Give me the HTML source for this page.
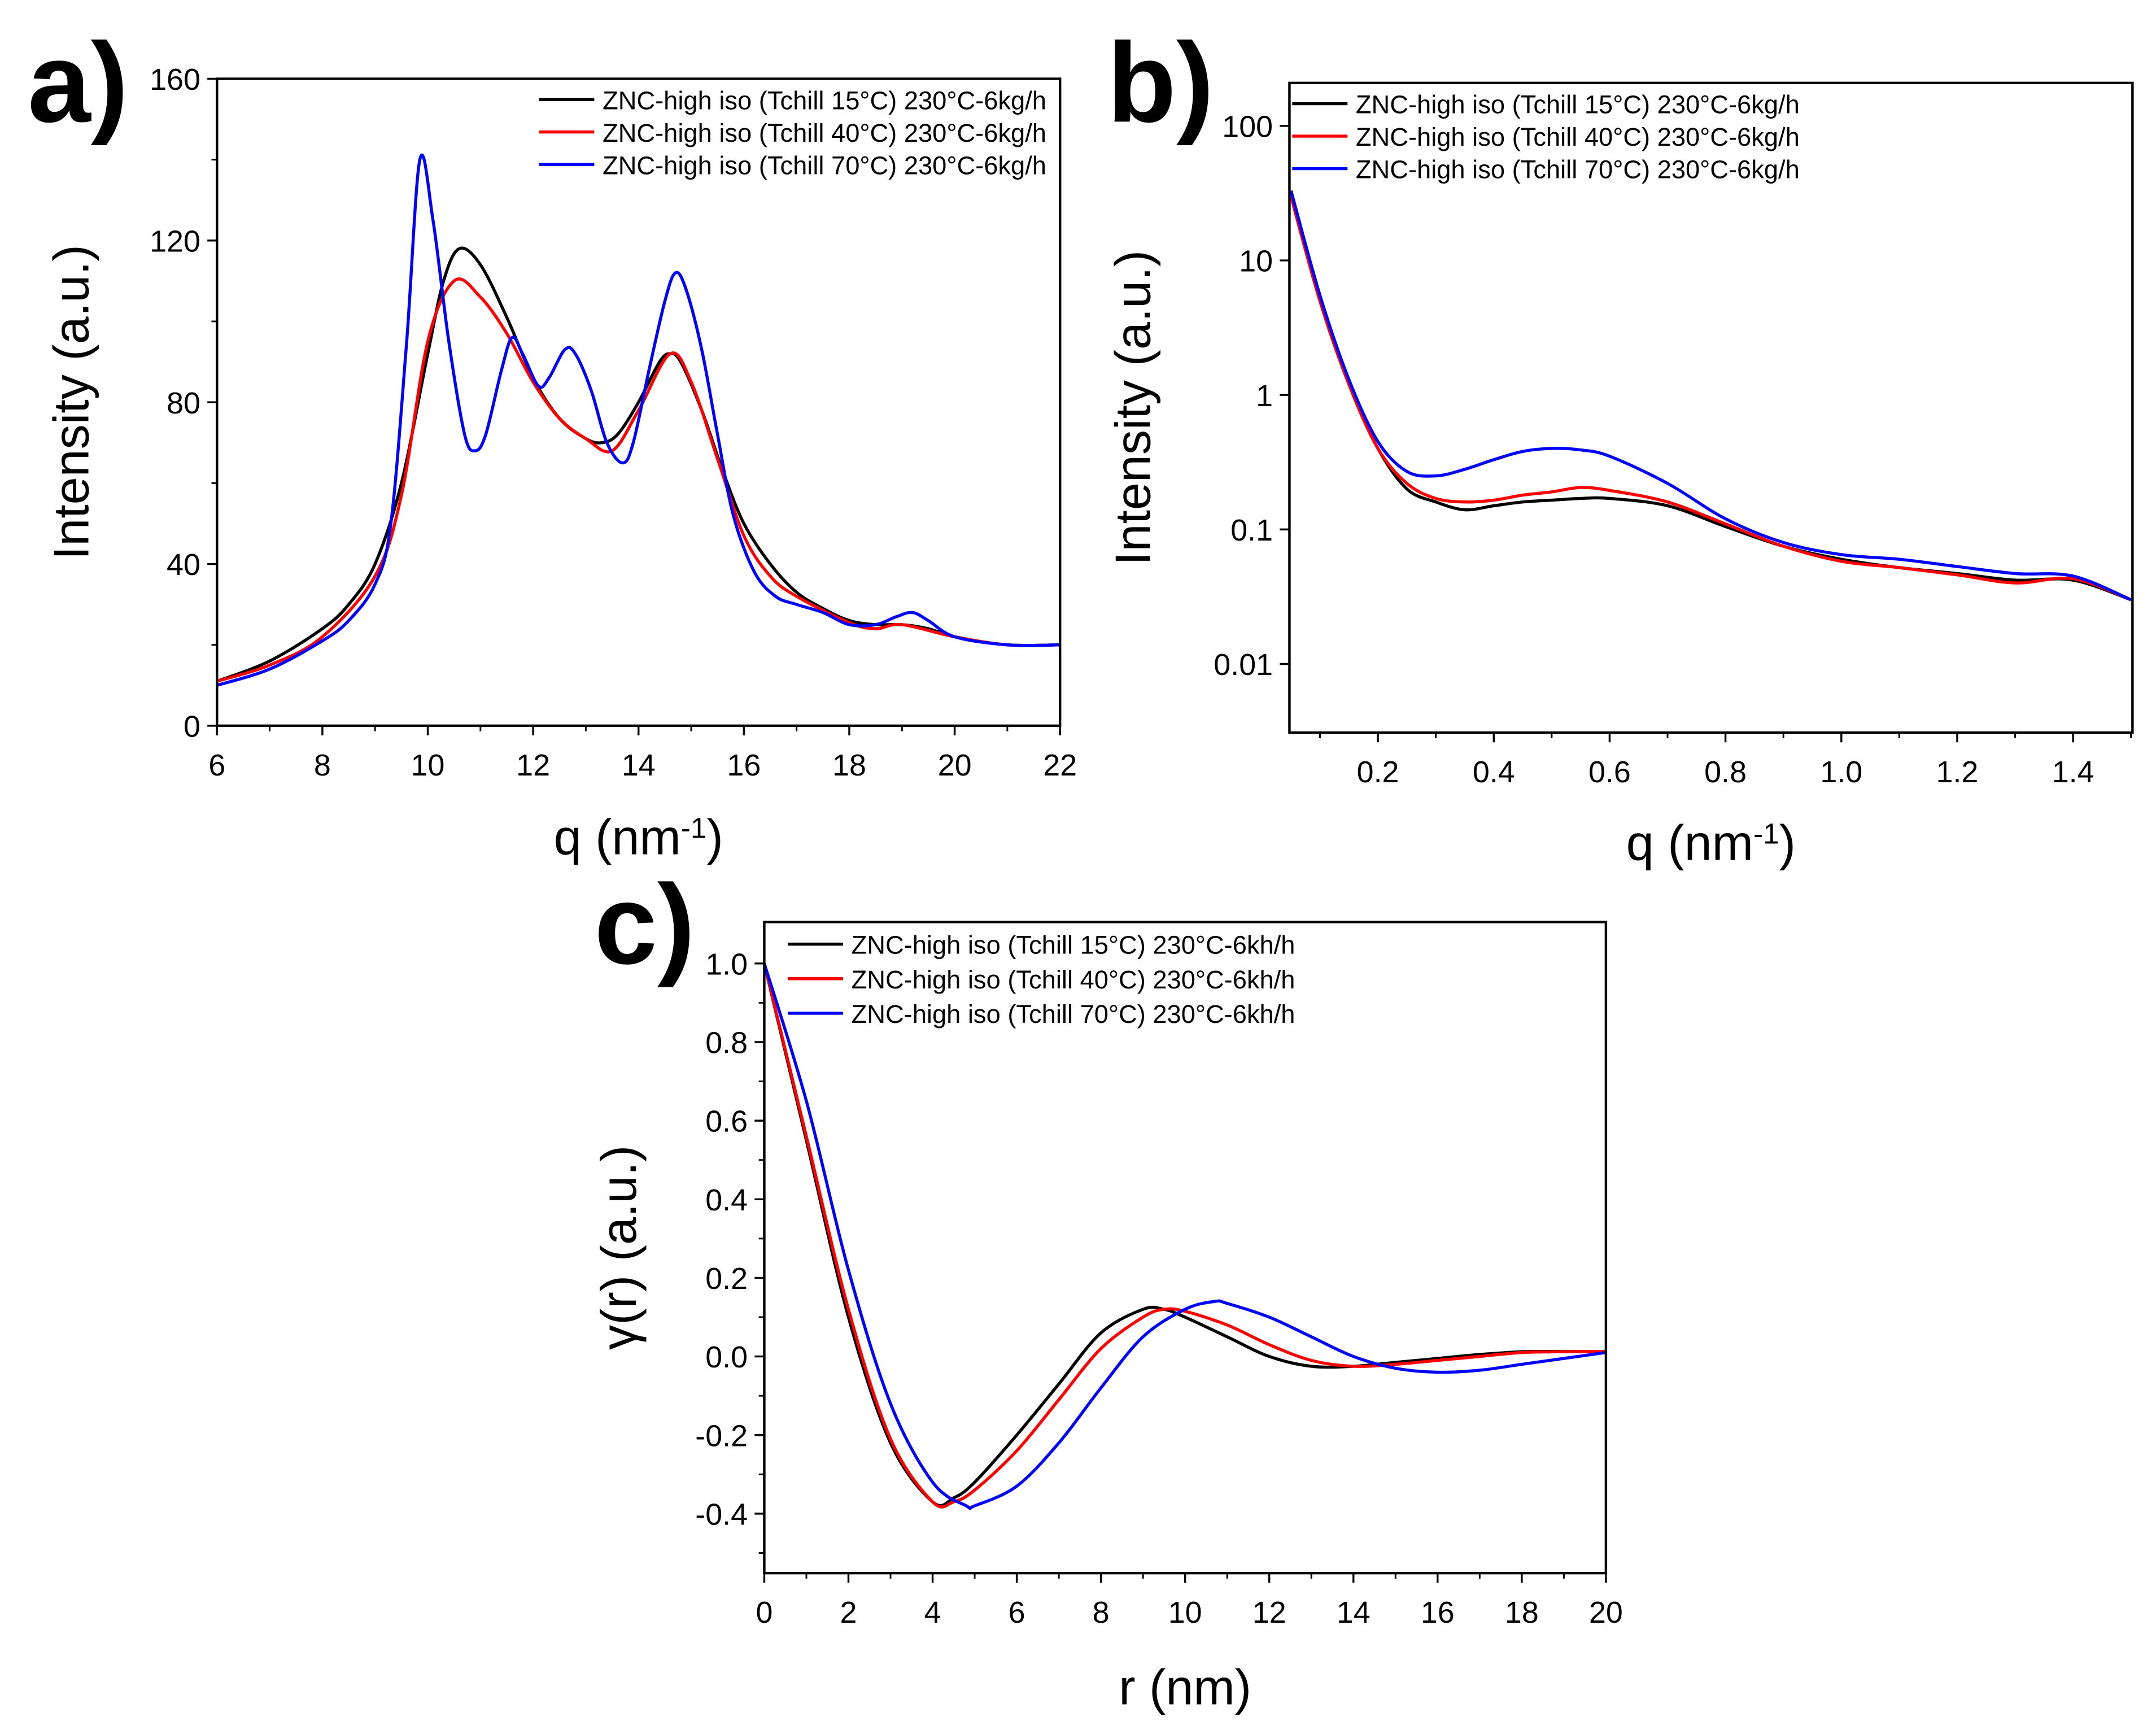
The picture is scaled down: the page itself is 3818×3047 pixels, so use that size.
<!DOCTYPE html>
<html><head><meta charset="utf-8"><style>
html,body{margin:0;padding:0;background:#fff}
svg{display:block}
text{font-family:"Liberation Sans Narrow","Liberation Sans",sans-serif}
.t{font-size:22px}
.lg{font-size:18.5px}
.ti{font-family:"Liberation Sans",sans-serif;font-size:36px}
.pl{font-family:"Liberation Sans",sans-serif;font-size:82px;font-weight:bold}
</style></head><body>
<svg id="fig" width="3818" height="3047" viewBox="0 0 1560 1245" xmlns="http://www.w3.org/2000/svg"></svg>
<script>
// Panel a data
const aQ_black=[6,7,8,8.5,9,9.5,10,10.3,10.6,11,11.5,12,12.5,13,13.3,13.6,14,14.4,14.6,14.8,15.2,15.6,16,16.5,17,17.5,18,18.5,19,19.5,20,21,22];
const aI_black=[11,16,24,30,40,60,92,110,118,114,101,86,76,71,70,72,80,90,92,90,78,63,50,40,33,29,26,25,25,24,22,20,20];
const aQ_red=[6,7,8,9,9.5,10,10.5,11,11.5,12,12.5,13,13.5,14,14.6,15,15.5,16,16.5,17,18,18.5,19,20,21,22];
const aI_red=[11,15,22,37,57,95,110,106,97,85,76,71,68,78,92,85,66,47,37,32,25.5,24,25,22,20,20];
const aQ_blue=[6,7,8,8.5,9,9.3,9.6,9.85,10.1,10.4,10.7,10.9,11.1,11.4,11.6,11.8,12.1,12.3,12.6,12.8,13.1,13.4,13.7,13.9,14.2,14.5,14.7,14.9,15.2,15.5,15.8,16.2,16.6,17,17.5,18,18.5,18.9,19.2,19.5,20,21,22];
const aI_blue=[10,14,21,26,35,50,95,140,125,95,72,68,72,88,96,92,84,86,93,92,83,70,65,70,88,105,112,108,93,72,52,38,32,30,28,25,25,27,28,26,22,20,20];
const aXTicks=[6,8,10,12,14,16,18,20,22];
const aYTicks=[0,40,80,120,160];
// Panel b data
const bQ=[0.05,0.1,0.15,0.2,0.25,0.3,0.35,0.4,0.45,0.5,0.55,0.6,0.7,0.8,0.9,1.0,1.1,1.2,1.3,1.4,1.5];
const bI_black=[30,5,1.2,0.4,0.2,0.16,0.14,0.15,0.16,0.165,0.17,0.17,0.15,0.105,0.075,0.06,0.052,0.047,0.042,0.042,0.03];
const bI_red=[30,5,1.2,0.4,0.22,0.17,0.16,0.165,0.18,0.19,0.205,0.195,0.16,0.11,0.075,0.058,0.052,0.046,0.04,0.043,0.03];
const bI_blue=[33,5.5,1.3,0.45,0.27,0.25,0.28,0.33,0.38,0.40,0.39,0.35,0.22,0.12,0.08,0.065,0.06,0.053,0.047,0.045,0.03];
const bXTicks=[0.2,0.4,0.6,0.8,1.0,1.2,1.4];
const bYTicks=[0.01,0.1,1,10,100];
const bYLabels=["0.01","0.1","1","10","100"];
// Panel c data
const cR=[0,1,2,3,4,4.5,5,6,7,8,9,9.5,10,11,12,13,14,15,16,17,18,19,20];
const cG_black=[1,0.55,0.1,-0.22,-0.37,-0.36,-0.32,-0.2,-0.07,0.06,0.12,0.12,0.1,0.05,0.0,-0.025,-0.025,-0.015,-0.005,0.005,0.012,0.013,0.012];
const cG_red=[1,0.56,0.12,-0.21,-0.37,-0.37,-0.34,-0.24,-0.11,0.02,0.1,0.12,0.115,0.08,0.03,-0.01,-0.025,-0.02,-0.01,0.0,0.01,0.012,0.013];
const cR_blue=[0,1,2,3,4,4.8,5,6,7,8,9,10,10.7,11,12,13,14,15,16,17,18,19,20];
const cG_blue=[1,0.65,0.22,-0.12,-0.32,-0.38,-0.38,-0.33,-0.22,-0.08,0.05,0.12,0.14,0.135,0.1,0.05,0.0,-0.03,-0.04,-0.035,-0.02,-0.005,0.01];
const cXTicks=[0,2,4,6,8,10,12,14,16,18,20];
const cYTicks=[-0.4,-0.2,0.0,0.2,0.4,0.6,0.8,1.0];

const NS="http://www.w3.org/2000/svg";
const svg=document.getElementById('fig');
function mk(tag,attrs,parent,txt){const e=document.createElementNS(NS,tag);for(const k in attrs)e.setAttribute(k,attrs[k]);if(txt!==undefined)e.textContent=txt;(parent||svg).appendChild(e);return e;}

function linePath(xs,ys,sx,sy){
  const p=xs.map((x,i)=>[sx(x),sy(ys[i])]);
  let d="M"+p[0][0]+","+p[0][1];
  for(let i=0;i<p.length-1;i++){
    const p0=p[i-1]||p[i],p1=p[i],p2=p[i+1],p3=p[i+2]||p2;
    const c1x=p1[0]+(p2[0]-p0[0])/6,c1y=p1[1]+(p2[1]-p0[1])/6;
    const c2x=p2[0]-(p3[0]-p1[0])/6,c2y=p2[1]-(p3[1]-p1[1])/6;
    d+=` C${c1x},${c1y} ${c2x},${c2y} ${p2[0]},${p2[1]}`;
  }
  return d;
}

function panel(o){
  const g=mk('g',{});
  
  
  o.series.forEach(s=>{
    const p=mk('path',{d:linePath(s.x,s.y,o.sx,o.sy),fill:'none',stroke:s.c,'stroke-width':2.2},g);
    
    
  });
  const f=mk('rect',{x:o.L,y:o.T,width:o.R-o.L,height:o.B-o.T,fill:'none',stroke:'#000','stroke-width':1.8},g);
  
  
  o.xt.forEach(v=>{
    const x=o.sx(v);
    mk('line',{x1:x,x2:x,y1:o.B,y2:o.B+7,stroke:'#000','stroke-width':1.4},g);
    const t=mk('text',{x:x,y:o.B+36,'text-anchor':'middle',class:'t'},g,o.xf?o.xf(v):v);
    
    
  });
  (o.xm||[]).forEach(v=>{const x=o.sx(v);mk('line',{x1:x,x2:x,y1:o.B,y2:o.B+4,stroke:'#000','stroke-width':1.2},g);});
  o.yt.forEach((v,i)=>{
    const y=o.sy(v);
    mk('line',{x1:o.L-7,x2:o.L,y1:y,y2:y,stroke:'#000','stroke-width':1.4},g);
    const t=mk('text',{x:o.L-12,y:y+8,'text-anchor':'end',class:'t'},g,o.yl?o.yl[i]:(o.yf?o.yf(v):v));
    
    
  });
  (o.ym||[]).forEach(v=>{const y=o.sy(v);mk('line',{x1:o.L-4,x2:o.L,y1:y,y2:y,stroke:'#000','stroke-width':1.2},g);});
  o.series.forEach((s,i)=>{
    const y=o.lgY+i*o.lgDy;
    mk('line',{x1:o.lgX,x2:o.lgX+40,y1:y,y2:y,stroke:s.c,'stroke-width':2.2},g);
    const t=mk('text',{x:o.lgX+46,y:y+7,class:'lg'},g,s.label);
    
    
  });
  const xt=mk('text',{x:(o.L+o.R)/2,y:o.xTitleY,'text-anchor':'middle',class:'ti'},g);
  
  
  if(o.xsup){xt.textContent=o.xTitle;mk('tspan',{'baseline-shift':'super','font-size':'21'},xt,o.xsup);mk('tspan',{},xt,')');}
  else xt.textContent=o.xTitle;
  const yt=mk('text',{x:0,y:0,'text-anchor':'middle',class:'ti',transform:`translate(${o.yTitleX},${(o.T+o.B)/2}) rotate(-90)`},g,o.yTitle);
  
  
  const pl=mk('text',{x:o.plX,y:o.plY,class:'pl'},g,o.letter);
  
  
}

{const L=157,R=767,T=57,B=525;
panel({name:'panel-a',L,R,T,B,sx:q=>L+(q-6)/16*(R-L),sy:v=>B-v/160*(B-T),
xt:aXTicks,xm:[7,9,11,13,15,17,19,21],yt:aYTicks,ym:[20,60,100,140],
series:[{x:aQ_black,y:aI_black,c:'#000',n:'series-15c',label:'ZNC-high iso (Tchill 15°C) 230°C-6kg/h'},
{x:aQ_red,y:aI_red,c:'#f00',n:'series-40c',label:'ZNC-high iso (Tchill 40°C) 230°C-6kg/h'},
{x:aQ_blue,y:aI_blue,c:'#00f',n:'series-70c',label:'ZNC-high iso (Tchill 70°C) 230°C-6kg/h'}],
lgX:390,lgY:72,lgDy:23.5,xTitle:'q (nm',xsup:'-1',xTitleY:618,yTitle:'Intensity (a.u.)',yTitleX:64,letter:'a)',plX:20,plY:88});}
{const L=933,R=1543,T=60,B=530;const y0=383,dec=97.3;
panel({name:'panel-b',L,R,T,B,sx:q=>997+(q-0.2)/1.2*(1500-997),sy:v=>y0-Math.log10(v/0.1)*dec,
xt:bXTicks,xf:v=>v.toFixed(1),xm:[0.1,0.3,0.5,0.7,0.9,1.1,1.3,1.5],yt:bYTicks,yl:bYLabels,
series:[{x:bQ,y:bI_black,c:'#000',n:'series-15c',label:'ZNC-high iso (Tchill 15°C) 230°C-6kg/h'},
{x:bQ,y:bI_red,c:'#f00',n:'series-40c',label:'ZNC-high iso (Tchill 40°C) 230°C-6kg/h'},
{x:bQ,y:bI_blue,c:'#00f',n:'series-70c',label:'ZNC-high iso (Tchill 70°C) 230°C-6kg/h'}],
lgX:935,lgY:75,lgDy:23.5,xTitle:'q (nm',xsup:'-1',xTitleY:622,yTitle:'Intensity (a.u.)',yTitleX:832,letter:'b)',plX:801,plY:88});}
{const L=553,R=1162,T=667,B=1138;
panel({name:'panel-c',L,R,T,B,sx:r=>L+r/20*(R-L),sy:v=>697+(1-v)/1.4*(1095-697),
xt:cXTicks,xm:[1,3,5,7,9,11,13,15,17,19],yt:cYTicks,yf:v=>v.toFixed(1),ym:[-0.5,-0.3,-0.1,0.1,0.3,0.5,0.7,0.9],
series:[{x:cR,y:cG_black,c:'#000',n:'series-15c',label:'ZNC-high iso (Tchill 15°C) 230°C-6kh/h'},
{x:cR,y:cG_red,c:'#f00',n:'series-40c',label:'ZNC-high iso (Tchill 40°C) 230°C-6kh/h'},
{x:cR_blue,y:cG_blue,c:'#00f',n:'series-70c',label:'ZNC-high iso (Tchill 70°C) 230°C-6kh/h'}],
lgX:570,lgY:683,lgDy:25,xTitle:'r (nm)',xTitleY:1233,yTitle:'γ(r) (a.u.)',yTitleX:460,letter:'c)',plX:430,plY:697});}
</script>
</body></html>
